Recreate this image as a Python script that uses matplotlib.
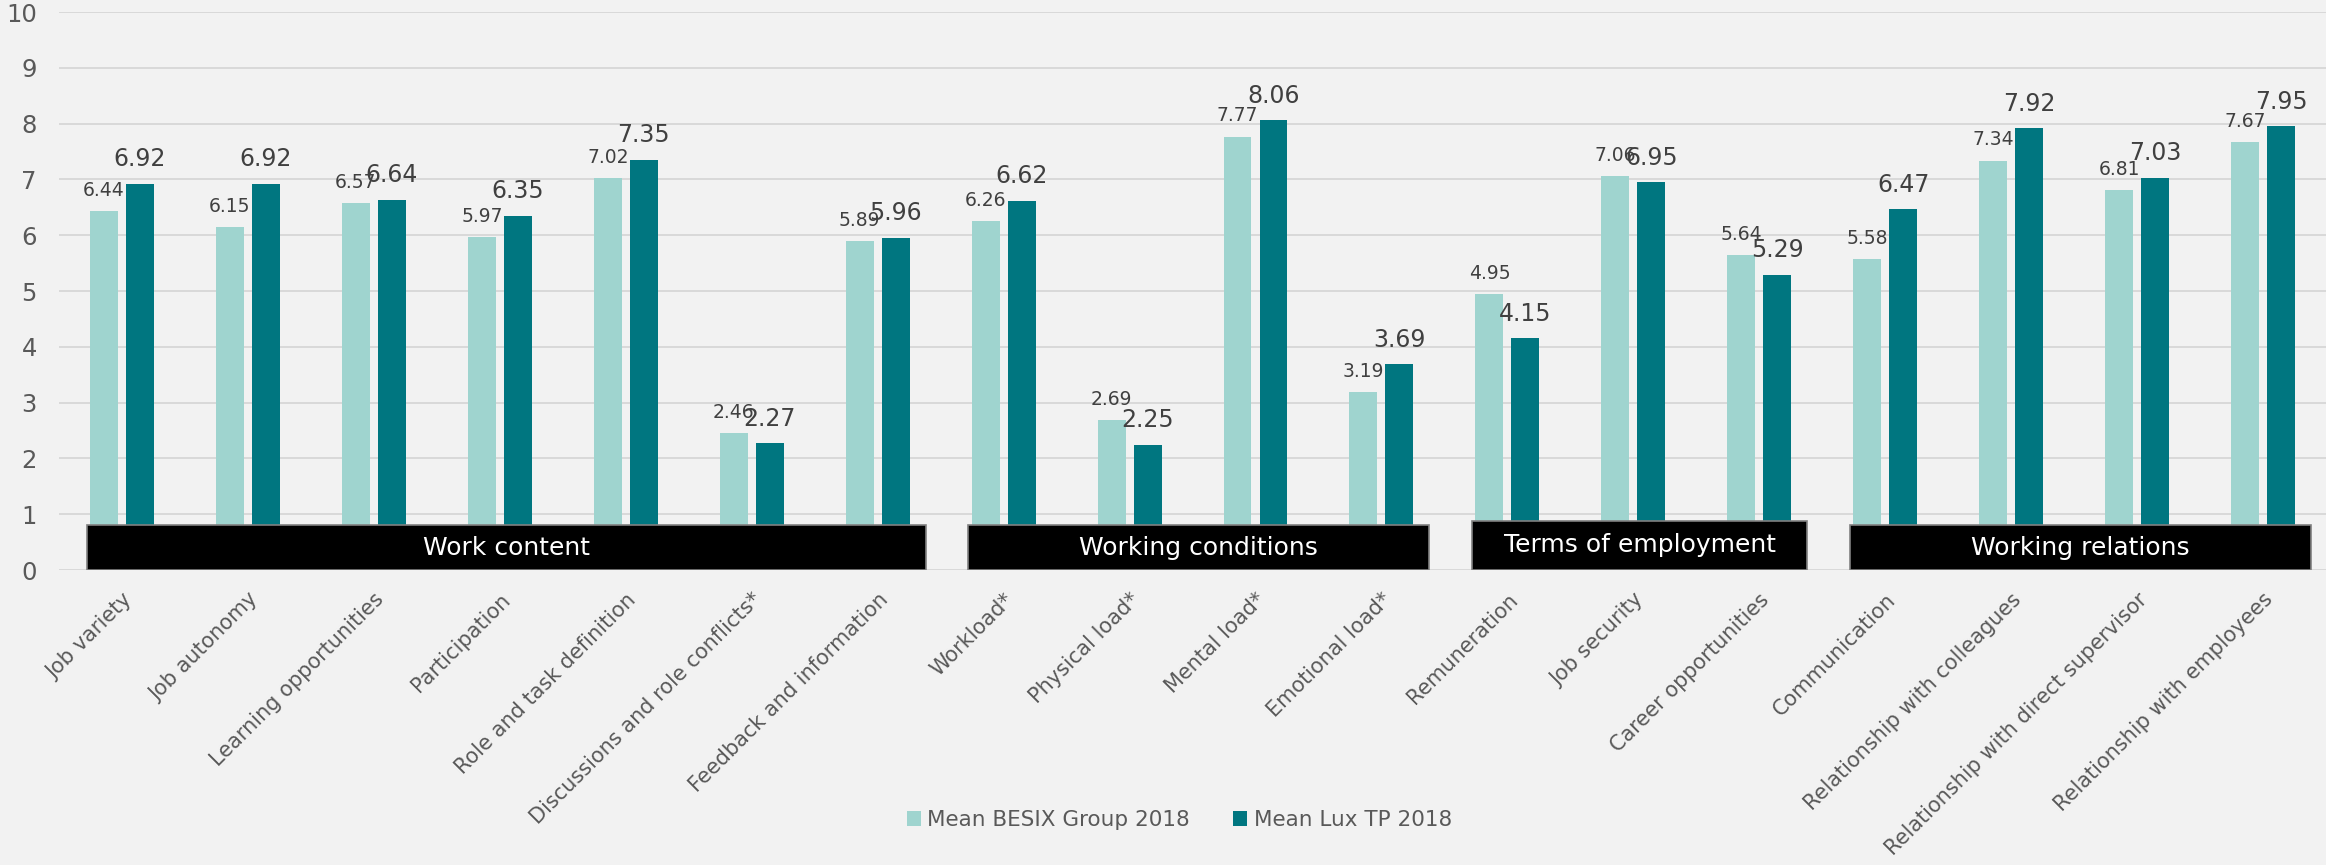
import numpy as np
import matplotlib.pyplot as plt
from matplotlib.patches import Rectangle

categories = ['Job variety', 'Job autonomy', 'Learning opportunities', 'Participation',
              'Role and task definition', 'Discussions and role conflicts*',
              'Feedback and information', 'Workload*', 'Physical load*', 'Mental load*',
              'Emotional load*', 'Remuneration', 'Job security', 'Career opportunities',
              'Communication', 'Relationship with colleagues',
              'Relationship with direct supervisor', 'Relationship with employees']
besix = [6.44, 6.15, 6.57, 5.97, 7.02, 2.46, 5.89, 6.26, 2.69, 7.77, 3.19,
         4.95, 7.06, 5.64, 5.58, 7.34, 6.81, 7.67]
luxtp = [6.92, 6.92, 6.64, 6.35, 7.35, 2.27, 5.96, 6.62, 2.25, 8.06, 3.69,
         4.15, 6.95, 5.29, 6.47, 7.92, 7.03, 7.95]

# theme groups: (name, first category, last category)
groups = [('Work content', 0, 6),
          ('Working conditions', 7, 10),
          ('Terms of employment', 11, 13),
          ('Working relations', 14, 17)]

light = '#9fd4cf'
dark = '#007680'
bg = '#f2f2f2'
txt = '#595959'

fig = plt.figure(figsize=(23.26, 8.65), dpi=100, facecolor=bg)
ax = fig.add_axes([0.0254, 0.341, 0.9746, 0.645])
ax.set_facecolor(bg)

x = np.arange(len(categories))
w = 0.222
off = 0.143
b1 = ax.bar(x - off, besix, w, color=light, label='Mean BESIX Group 2018', zorder=2)
b2 = ax.bar(x + off, luxtp, w, color=dark, label='Mean Lux TP 2018', zorder=2)

for xi, v in zip(x, besix):
    ax.annotate(f'{v:.2f}', (xi - off, v), xytext=(0, 8), textcoords='offset points',
                ha='center', va='bottom', fontsize=13.5, color='#404040', zorder=4)
for xi, v in zip(x, luxtp):
    ax.annotate(f'{v:.2f}', (xi + off, v), xytext=(0, 9), textcoords='offset points',
                ha='center', va='bottom', fontsize=17, color='#404040', zorder=4)

# black theme bands along the bottom
for name, a, b in groups:
    h = 0.88 if name == 'Terms of employment' else 0.8
    left = a - 0.28
    right = b + 0.38
    ax.add_patch(Rectangle((left, 0), right - left, h, facecolor='black',
                           edgecolor='#808080', linewidth=1.2, zorder=3))
    ax.text((left + right) / 2, h / 2, name, color='white', fontsize=18,
            ha='center', va='center', zorder=4)

ax.set_xlim(-0.5, 17.5)
ax.set_ylim(0, 10)
ax.set_yticks(np.arange(0, 11, 1))
ax.yaxis.grid(True, color='#d9d9d9', linewidth=1.4, zorder=0)
ax.set_axisbelow(True)
for s in ax.spines.values():
    s.set_visible(False)
ax.tick_params(axis='y', length=0, pad=16, labelsize=17.5, labelcolor=txt)
ax.tick_params(axis='x', length=0, pad=14, labelsize=15, labelcolor=txt)
ax.set_xticks(x)
ax.set_xticklabels(categories, rotation=45, ha='right', rotation_mode='anchor')

fig.legend(handles=[b1, b2], loc='center', bbox_to_anchor=(0.507, 0.052), ncol=2,
           frameon=False, fontsize=15.5, labelcolor=txt, handlelength=0.65,
           handleheight=0.65, handletextpad=0.3, columnspacing=2.0)

fig.savefig('out.png', dpi=100, facecolor=bg)
